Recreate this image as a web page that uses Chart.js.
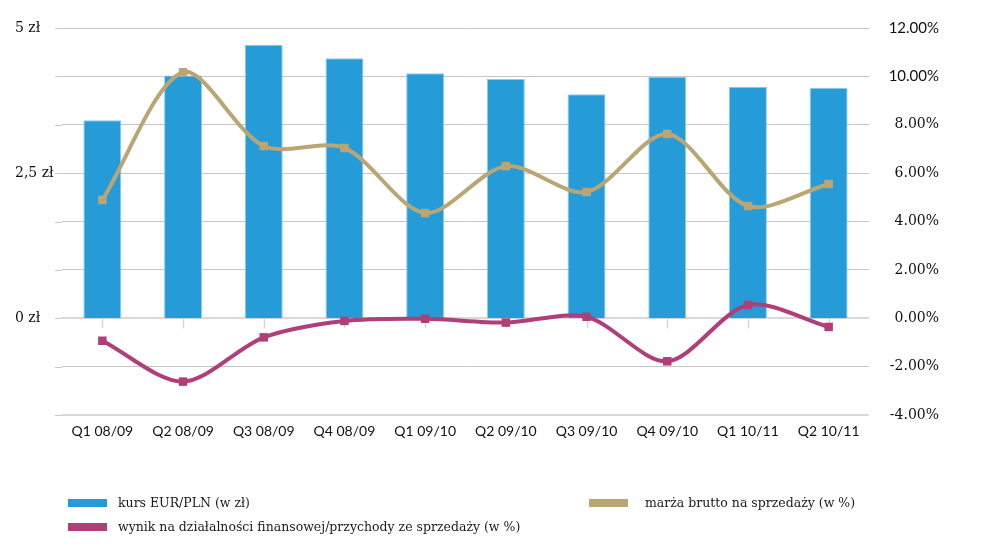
<!DOCTYPE html>
<html>
<head>
<meta charset="utf-8">
<script src="https://cdn.jsdelivr.net/npm/chart.js@4"></script>
<style>
  html, body { margin: 0; padding: 0; background: #fff; }
  #wrap { position: relative; width: 1006px; height: 556px; }
  #legend { position: absolute; left: 0; top: 0; width: 1006px; height: 556px; pointer-events: none;
            font-family: "DejaVu Serif", serif; font-size: 12.5px; color: #1a1a1a; }
  .box { position: absolute; width: 39px; height: 8px; }
  .txt { position: absolute; white-space: nowrap; line-height: 16px; }
</style>
</head>
<body>
<div id="wrap">
  <canvas id="chart" width="1006" height="470"></canvas>
  <div id="legend"></div>
</div>
<script>
// dane z wykresu
const categories = ['Q1 08/09', 'Q2 08/09', 'Q3 08/09', 'Q4 08/09', 'Q1 09/10', 'Q2 09/10', 'Q3 09/10', 'Q4 09/10', 'Q1 10/11', 'Q2 10/11'];
const kursEurPln = [3.41, 4.18, 4.71, 4.48, 4.22, 4.12, 3.86, 4.16, 3.99, 3.97];
const marzaBrutto = [4.89, 10.17, 7.12, 7.04, 4.35, 6.29, 5.22, 7.62, 4.64, 5.55];
const wynikFinansowy = [-0.93, -2.62, -0.79, -0.11, -0.02, -0.18, 0.06, -1.78, 0.55, -0.36];
const zlTicks = [0, 2.5, 5];
const pctMin = -4, pctMax = 12, pctStep = 2;

const blue = '#259cd8', tan = '#b9a674', purple = '#b03e78';

// stubs of gridlines left of the plot + tick marks on the zero line
const extras = {
  id: 'extras',
  beforeDatasetsDraw(chart) {
    const c = chart.ctx, a = chart.chartArea;
    const y1 = chart.scales.y1, x = chart.scales.x;
    c.save();
    c.strokeStyle = '#c8c8c8';
    c.lineWidth = 1;
    y1.ticks.forEach(t => {
      const py = Math.round(y1.getPixelForValue(t.value)) + 0.5;
      c.beginPath(); c.moveTo(a.left - 7, py); c.lineTo(a.left, py); c.stroke();
    });
    const y0 = y1.getPixelForValue(0);
    c.strokeStyle = '#d6d6d6';
    c.lineWidth = 1.5;
    categories.forEach((_, i) => {
      const px = Math.round(x.getPixelForValue(i)) + 0.5;
      c.beginPath(); c.moveTo(px, y0); c.lineTo(px, y0 + 10); c.stroke();
    });
    c.restore();
  }
};

const ctx = document.getElementById('chart').getContext('2d');
const chart = new Chart(ctx, {
  type: 'bar',
  data: {
    labels: categories,
    datasets: [{
      type: 'line',
      label: 'marża brutto na sprzedaży (w %)',
      data: marzaBrutto,
      yAxisID: 'y1',
      borderColor: tan,
      backgroundColor: tan,
      borderWidth: 4,
      tension: 0.3,
      pointStyle: 'rect',
      pointRadius: 6,
      pointBorderWidth: 0,
      pointBackgroundColor: tan,
      order: 1
    }, {
      type: 'line',
      label: 'wynik na działalności finansowej/przychody ze sprzedaży (w %)',
      data: wynikFinansowy,
      yAxisID: 'y1',
      borderColor: purple,
      backgroundColor: purple,
      borderWidth: 4,
      tension: 0.3,
      pointStyle: 'rect',
      pointRadius: 6,
      pointBorderWidth: 0,
      pointBackgroundColor: purple,
      order: 2
    }, {
      label: 'kurs EUR/PLN (w zł)',
      data: kursEurPln,
      yAxisID: 'y',
      backgroundColor: blue,
      borderColor: '#8ccbec',
      borderWidth: 1,
      barPercentage: 0.47,
      categoryPercentage: 1,
      order: 3
    }]
  },
  options: {
    responsive: false,
    animation: false,
    layout: { padding: { left: 15, right: 67, top: 28, bottom: 20 } },
    plugins: { legend: { display: false }, tooltip: { enabled: false } },
    scales: {
      x: {
        grid: { display: false, drawTicks: false },
        border: { display: false },
        ticks: { padding: 8, color: '#111', font: { family: 'Lato', size: 14 } },
        afterFit(s) { s.height = 35; }
      },
      y: {
        position: 'left',
        min: pctMin / pctMax * 5,
        max: 5,
        grid: { display: false },
        border: { display: false },
        afterBuildTicks(s) { s.ticks = zlTicks.map(v => ({ value: v })); },
        ticks: {
          crossAlign: 'far',
          color: '#111',
          font: { family: 'DejaVu Serif', size: 14 },
          callback: v => String(v).replace('.', ',') + ' zł'
        },
        afterFit(s) { s.width = 47; }
      },
      y1: {
        position: 'right',
        min: pctMin,
        max: pctMax,
        grid: {
          drawTicks: false,
          color: c => (c.tick.value === 0 || c.tick.value === pctMin) ? '#d9d9d9' : '#c6c6c6',
          lineWidth: c => (c.tick.value === 0 || c.tick.value === pctMin) ? 2 : 1
        },
        border: { display: false },
        ticks: {
          stepSize: pctStep,
          crossAlign: 'far',
          color: '#111',
          font: c => (c.tick && c.tick.value >= 10) ? { family: 'Lato', size: 15 } : { family: 'DejaVu Serif', size: 14 },
          callback: v => v.toFixed(2) + '%'
        },
        afterFit(s) { s.width = 70; }
      }
    }
  },
  plugins: [extras]
});

// legenda w dwóch kolumnach
const legendPos = [
  { ds: 2, left: 68, top: 499 },
  { ds: 0, left: 589, top: 499 },
  { ds: 1, left: 68, top: 523 }
];
const leg = document.getElementById('legend');
legendPos.forEach(p => {
  const ds = chart.data.datasets[p.ds];
  const box = document.createElement('div');
  box.className = 'box';
  box.style.left = p.left + 'px';
  box.style.top = p.top + 'px';
  box.style.background = ds.type === 'line' ? ds.borderColor : ds.backgroundColor;
  leg.appendChild(box);
  const t = document.createElement('div');
  t.className = 'txt';
  t.style.left = (p.left + (p.ds === 0 ? 56 : 50)) + 'px';
  t.style.top = (p.top - 4) + 'px';
  t.textContent = ds.label;
  leg.appendChild(t);
});
</script>
</body>
</html>
